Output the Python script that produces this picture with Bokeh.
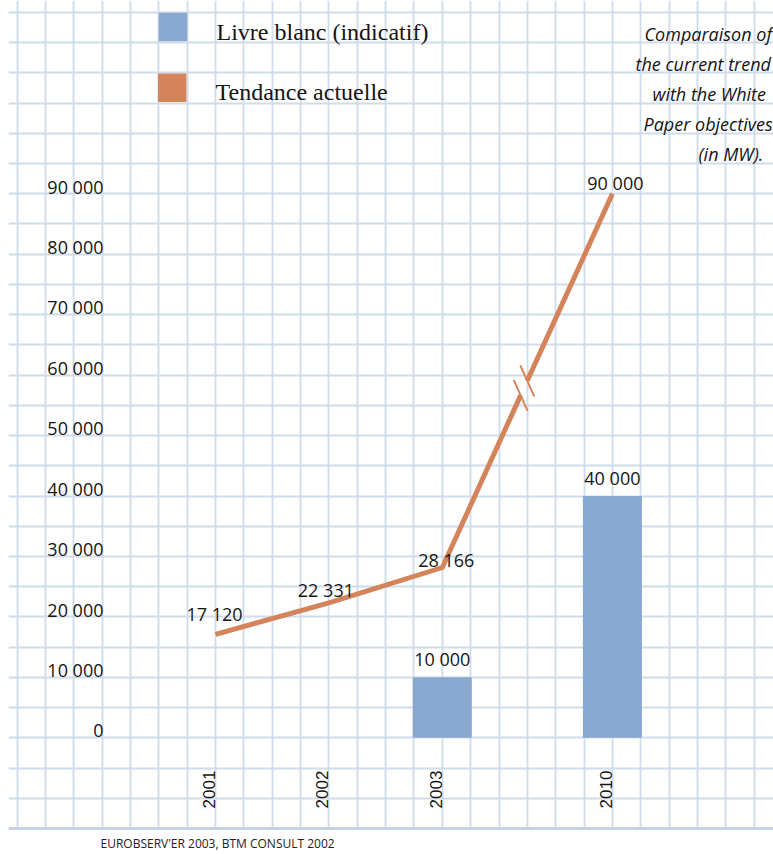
import numpy as np
from bokeh.plotting import figure
from bokeh.models import ColumnDataSource, FixedTicker, Span, Range1d, Grid, BoxAnnotation
from bokeh.core.properties import value
from bokeh.embed import file_html
from bokeh.resources import INLINE

# ---------------- data ----------------
years = ["2001", "2002", "2003", "2010"]
year_slot = [0.0, 1.0, 2.0, 3.5]          # horizontal slot of each year (wider gap before 2010)
trend = [17120, 22331, 28166, 90000]       # Tendance actuelle (MW)
trend_labels = ["17 120", "22 331", "28 166", "90 000"]
wp_years = ["2003", "2010"]
wp_values = [10000, 40000]                 # Livre blanc (indicatif) (MW)
wp_labels = ["10 000", "40 000"]
y_ticks = [0, 10000, 20000, 30000, 40000, 50000, 60000, 70000, 80000, 90000]
y_tick_labels = ["0", "10 000", "20 000", "30 000", "40 000", "50 000",
                 "60 000", "70 000", "80 000", "90 000"]
legend_labels = ["Livre blanc (indicatif)", "Tendance actuelle"]
note_lines = ["Comparaison of", "the current trend", "with the White",
              "Paper objectives", "(in MW)."]
source_text = "EUROBSERV'ER 2003, BTM CONSULT 2002"

# ---------------- layout / style ----------------
W, H = 773, 854
X0_PX, SLOT_PX = 215.0, 113.4      # pixel of slot 0, pixels per slot
Y0_PX = 737.3                      # pixel of value 0
VAL_PX = 30.225 / 5000.0           # pixels per MW (one grid cell = 5000)
FIX = -0.4                         # baseline correction (in em) for alphabetic text

def sx(px):
    return (px - X0_PX) / SLOT_PX

def sy(py):
    return (Y0_PX - py) / VAL_PX

BLUE = "#88a8cf"
ORANGE = "#d4845a"
GRID = "#d0dbeb"
TXT = "#151515"

p = figure(width=W, height=H,
           x_range=Range1d(sx(8), sx(W)), y_range=Range1d(sy(H), sy(0)),
           min_border_left=8, min_border_right=0, min_border_top=0,
           min_border_bottom=0,
           x_axis_location=None, y_axis_location=None,
           toolbar_location=None, output_backend="svg",
           outline_line_color=None, background_fill_color="white",
           border_fill_color="white")
p.xgrid.visible = False
p.ygrid.visible = False

# graph-paper grid
xt = list(np.arange(-1.75, 5.0, 0.25))
yt = list(np.arange(-15000, 125000, 5000))
p.add_layout(Grid(dimension=0, ticker=FixedTicker(ticks=xt),
                  grid_line_color=GRID, grid_line_width=1.8), "center")
p.add_layout(Grid(dimension=1, ticker=FixedTicker(ticks=yt),
                  grid_line_color=GRID, grid_line_width=1.8), "center")
# blank margin under the paper
p.add_layout(BoxAnnotation(top=-15000, fill_color="white", fill_alpha=1.0,
                           line_color=None, level="underlay"))
p.add_layout(Span(location=-15000, dimension="width", line_color="#c6d3e6",
                  line_width=3))

slot_of = dict(zip(years, year_slot))

# bars
bar_src = ColumnDataSource(dict(x=[slot_of[y] for y in wp_years], top=wp_values,
                                label=wp_labels))
p.vbar(x="x", top="top", bottom=0, width=59 / SLOT_PX, source=bar_src,
       fill_color=BLUE, line_color=None)
p.text(x="x", y="top", text="label", source=bar_src, y_offset=-11 + FIX * 18,
       text_align="center", text_baseline="alphabetic",
       text_font=value("Open Sans"), text_font_size="18px", text_color=TXT)

# trend line, broken between 2003 and 2010
BREAK_AT = 0.48
GAP_HALF = 8.0
def to_px(x, v):
    return np.array([X0_PX + x * SLOT_PX, Y0_PX - v * VAL_PX])
def to_data(pt):
    return sx(pt[0]), sy(pt[1])

a = to_px(year_slot[2], trend[2])
b = to_px(year_slot[3], trend[3])
u = (b - a) / np.linalg.norm(b - a)
m = a + (b - a) * BREAK_AT
g1 = to_data(m - GAP_HALF * u)
g2 = to_data(m + GAP_HALF * u)

xs1 = year_slot[:3] + [g1[0]]
ys1 = trend[:3] + [g1[1]]
xs2 = [g2[0], year_slot[3]]
ys2 = [g2[1], trend[3]]
p.line(xs1, ys1, line_color=ORANGE, line_width=5, line_join="miter", line_cap="butt")
p.line(xs2, ys2, line_color=ORANGE, line_width=5, line_cap="butt")

# break strokes
d = np.array([0.41, 0.912])
sxs, sys = [], []
for c in (m - GAP_HALF * u, m + GAP_HALF * u):
    p1 = to_data(c - 17 * d)
    p2 = to_data(c + 17 * d)
    sxs.append([p1[0], p2[0]])
    sys.append([p1[1], p2[1]])
p.multi_line(sxs, sys, line_color=ORANGE, line_width=2)

# trend labels
lab_dx = [-1, -3, 4, 3]
lab_dy = [-13, -6, 0, -4]
tl_src = ColumnDataSource(dict(x=year_slot, y=trend, text=trend_labels,
                               dx=lab_dx, dy=[v + FIX * 18 for v in lab_dy]))
p.text(x="x", y="y", text="text", source=tl_src, x_offset="dx", y_offset="dy",
       text_align="center", text_baseline="alphabetic",
       text_font=value("Open Sans"), text_font_size="18px", text_color=TXT)

# y tick labels
p.text(x=[sx(103)] * len(y_ticks), y=y_ticks, text=y_tick_labels,
       y_offset=FIX * 18,
       text_align="right", text_baseline="alphabetic",
       text_font=value("Open Sans"), text_font_size="18px", text_color=TXT)

# year labels (rotated)
p.text(x=year_slot, y=[sy(789)] * len(years), text=years, angle=np.pi / 2,
       x_offset=FIX * 17,
       text_align="center", text_baseline="alphabetic",
       text_font=value("Liberation Sans"), text_font_size="17px", text_color=TXT)

# legend
p.rect(x=[sx(172.5), sx(171.7)], y=[sy(26.5), sy(87.2)], width=28.5, height=28.5,
       width_units="screen", height_units="screen",
       fill_color=[BLUE, ORANGE], line_color=None)
p.text(x=[sx(216), sx(215)], y=[sy(40.7), sy(101)], text=legend_labels,
       y_offset=FIX * 24,
       text_align="left", text_baseline="alphabetic",
       text_font=value("Liberation Serif"), text_font_size="24px", text_color=TXT)

# note (top right)
p.text(x=[sx(v) for v in (644, 635, 652, 643, 698)],
       y=[sy(v) for v in (41, 71, 101, 131, 161)], text=note_lines,
       y_offset=FIX * 18,
       text_align="left", text_baseline="alphabetic",
       text_font=value("Open Sans"), text_font_style="italic",
       text_font_size="18px", text_color=TXT)

# source
p.text(x=[sx(100)], y=[sy(848)], text=[source_text], y_offset=FIX * 12,
       text_align="left", text_baseline="alphabetic",
       text_font=value("Open Sans"), text_font_size="12px", text_color="#222222")

open("out.html", "w").write(file_html(p, INLINE))
